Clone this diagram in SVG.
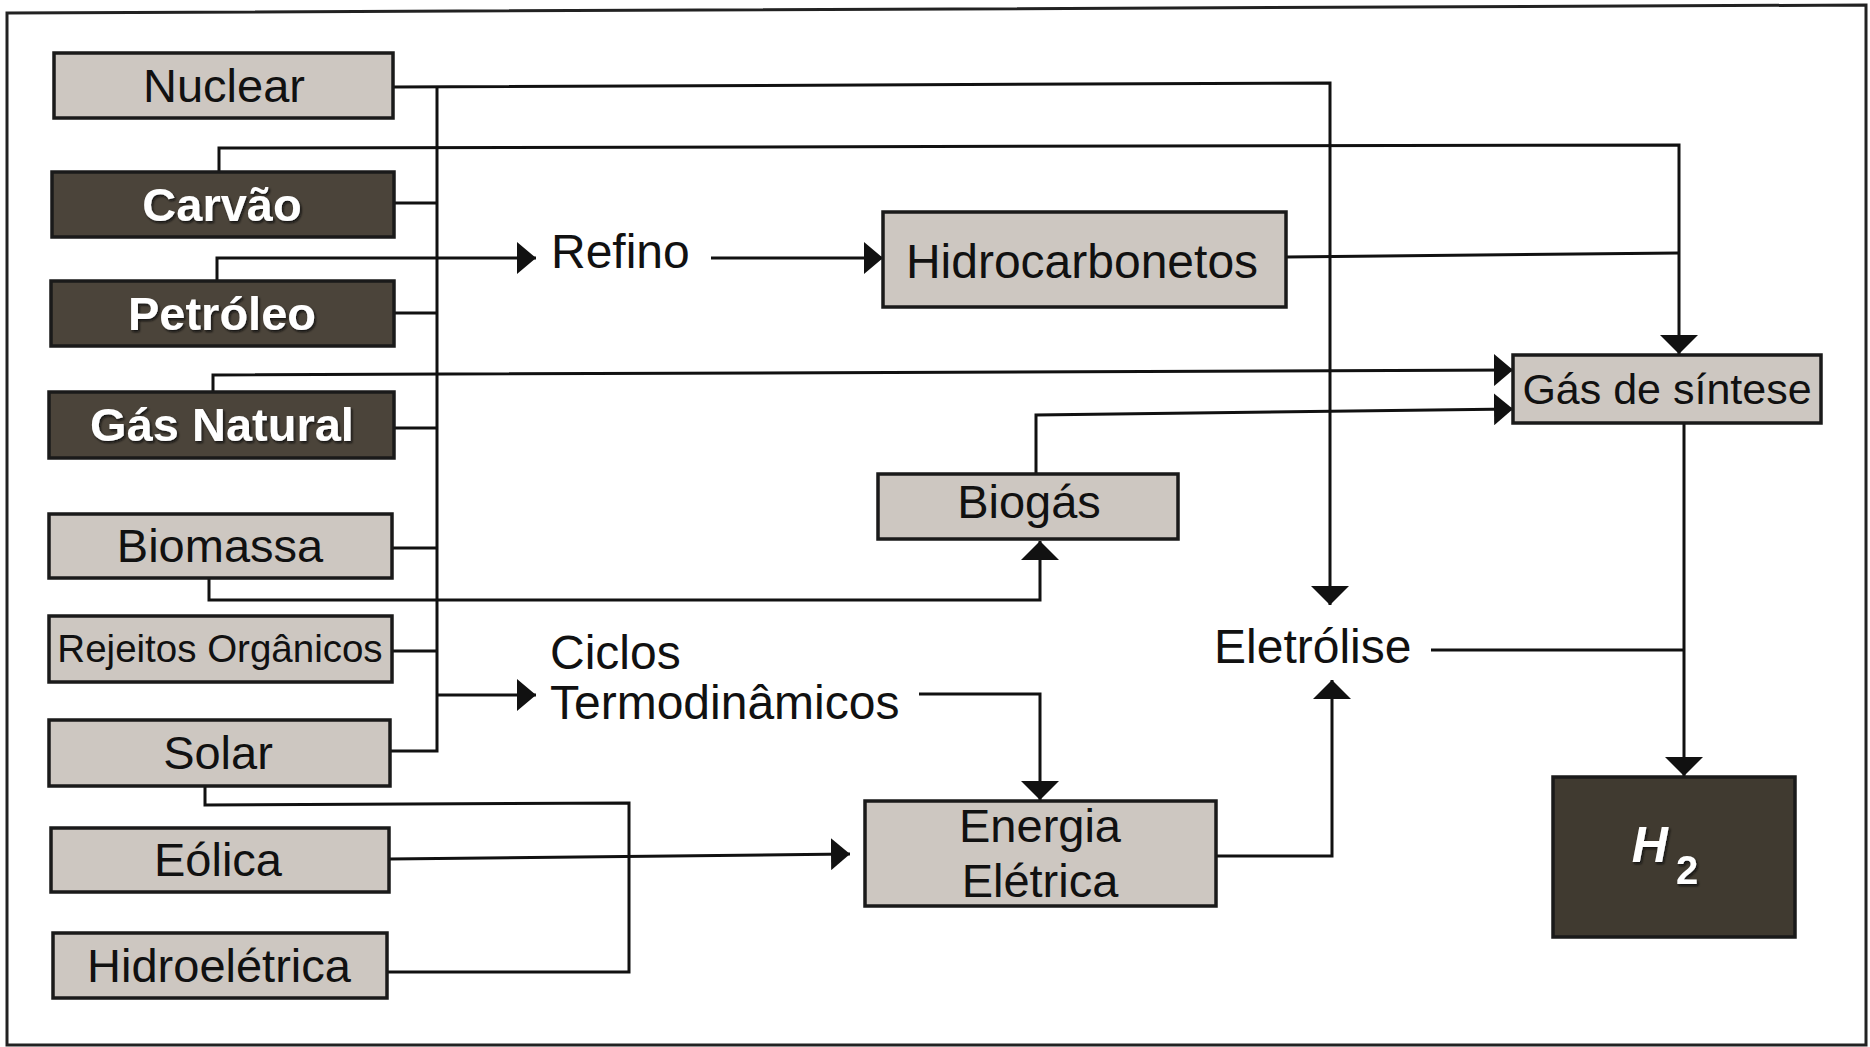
<svg xmlns="http://www.w3.org/2000/svg" width="1870" height="1047" viewBox="0 0 1870 1047">
<style>
  .lbox { fill: #cdc7c1; stroke: #1a1a1a; stroke-width: 3.5; }
  .dbox { fill: #4b443a; stroke: #1a1a1a; stroke-width: 3.5; }
  .t { font-family: "Liberation Sans", Arial, sans-serif; font-size: 47px; fill: #111; text-anchor: middle; }
  .tw { font-family: "Liberation Sans", Arial, sans-serif; font-size: 47px; font-weight: bold; fill: #ffffff; text-anchor: middle; filter: url(#sh); }
  .free { font-family: "Liberation Sans", Arial, sans-serif; font-size: 48px; fill: #111; }
  .c { fill: none; stroke: #111; stroke-width: 3; }
  .ca { fill: none; stroke: #111; stroke-width: 3; marker-end: url(#ah); }
  .cv { fill: none; stroke: #111; stroke-width: 3; marker-end: url(#av); }
</style>
<defs>
  <marker id="ah" markerUnits="userSpaceOnUse" markerWidth="20" markerHeight="32" refX="19" refY="16" orient="auto">
    <path d="M0,0 L19,16 L0,32 Z" fill="#111"/>
  </marker>
  <marker id="av" markerUnits="userSpaceOnUse" markerWidth="20" markerHeight="38" refX="19" refY="19" orient="auto">
    <path d="M0,0 L19,19 L0,38 Z" fill="#111"/>
  </marker>
  <filter id="sh" x="-10%" y="-20%" width="120%" height="140%">
    <feDropShadow dx="1.5" dy="2" stdDeviation="1.2" flood-color="#111" flood-opacity="0.9"/>
  </filter>
</defs>
<rect x="0" y="0" width="1870" height="1047" fill="#ffffff"/>
<path d="M7,13 L1866,5 L1866,1045 L7,1045 Z" fill="none" stroke="#222" stroke-width="3"/>

<g id="connectors">
  <path class="c" d="M390,751 H437 V87"/>
  <path class="c" d="M394,203 H437"/>
  <path class="c" d="M394,313 H437"/>
  <path class="c" d="M394,428 H437"/>
  <path class="c" d="M392,548 H437"/>
  <path class="c" d="M392,651 H437"/>
  <path class="cv" d="M393,87 L1330,83 V605"/>
  <path class="cv" d="M219,172 V148 L1679,145 V354"/>
  <path class="ca" d="M217,281 V258 H536"/>
  <path class="ca" d="M711,258 H883"/>
  <path class="c" d="M1286,257 L1679,253"/>
  <path class="ca" d="M213,392 V375 L1513,370"/>
  <path class="ca" d="M1036,474 V415 L1513,409"/>
  <path class="cv" d="M209,578 V600 H1040 V541"/>
  <path class="ca" d="M437,695 H536"/>
  <path class="cv" d="M919,694 H1040 V800"/>
  <path class="ca" d="M389,859 L850,854"/>
  <path class="c" d="M205,786 V805 L629,803 V972 H387"/>
  <path class="cv" d="M1216,856 H1332 V680"/>
  <path class="c" d="M1431,650 H1684"/>
  <path class="cv" d="M1684,423 V776"/>
</g>

<g id="nuclear"><rect class="lbox" x="54" y="53" width="339" height="65"/><text class="t" x="224" y="102">Nuclear</text></g>
<g id="carvao"><rect class="dbox" x="52" y="172" width="342" height="65"/><text class="tw" x="222" y="221">Carvão</text></g>
<g id="petroleo"><rect class="dbox" x="51" y="281" width="343" height="65"/><text class="tw" x="222" y="330">Petróleo</text></g>
<g id="gas-natural"><rect class="dbox" x="49" y="392" width="345" height="66"/><text class="tw" x="222" y="441">Gás Natural</text></g>
<g id="biomassa"><rect class="lbox" x="49" y="514" width="343" height="64"/><text class="t" x="220" y="562">Biomassa</text></g>
<g id="rejeitos"><rect class="lbox" x="49" y="616" width="343" height="66"/><text class="t" x="220" y="662" style="font-size:38.5px">Rejeitos Orgânicos</text></g>
<g id="solar"><rect class="lbox" x="49" y="720" width="341" height="66"/><text class="t" x="218" y="769">Solar</text></g>
<g id="eolica"><rect class="lbox" x="51" y="828" width="338" height="64"/><text class="t" x="218" y="876">Eólica</text></g>
<g id="hidroeletrica"><rect class="lbox" x="53" y="933" width="334" height="65"/><text class="t" x="219" y="982">Hidroelétrica</text></g>

<g id="refino"><text class="free" x="551" y="268">Refino</text></g>
<g id="hidrocarbonetos"><rect class="lbox" x="883" y="212" width="403" height="95"/><text class="t" x="1082" y="278" style="font-size:48px">Hidrocarbonetos</text></g>
<g id="gas-sintese"><rect class="lbox" x="1513" y="355" width="308" height="68"/><text class="t" x="1667" y="404" style="font-size:43px">Gás de síntese</text></g>
<g id="biogas"><rect class="lbox" x="878" y="474" width="300" height="65"/><text class="t" x="1029" y="518">Biogás</text></g>
<g id="ciclos"><text class="free" x="550" y="669">Ciclos</text><text class="free" x="550" y="719">Termodinâmicos</text></g>
<g id="eletrolise"><text class="free" x="1214" y="663">Eletrólise</text></g>
<g id="energia"><rect class="lbox" x="865" y="801" width="351" height="105"/><text class="t" x="1040" y="842">Energia</text><text class="t" x="1040" y="897">Elétrica</text></g>
<g id="h2"><rect class="dbox" x="1553" y="777" width="242" height="160" style="fill:#403a30"/><text class="tw" x="1665" y="862" style="font-style:italic;font-size:50px">H<tspan dx="8" dy="22" style="font-size:40px;font-style:normal">2</tspan></text></g>
</svg>
